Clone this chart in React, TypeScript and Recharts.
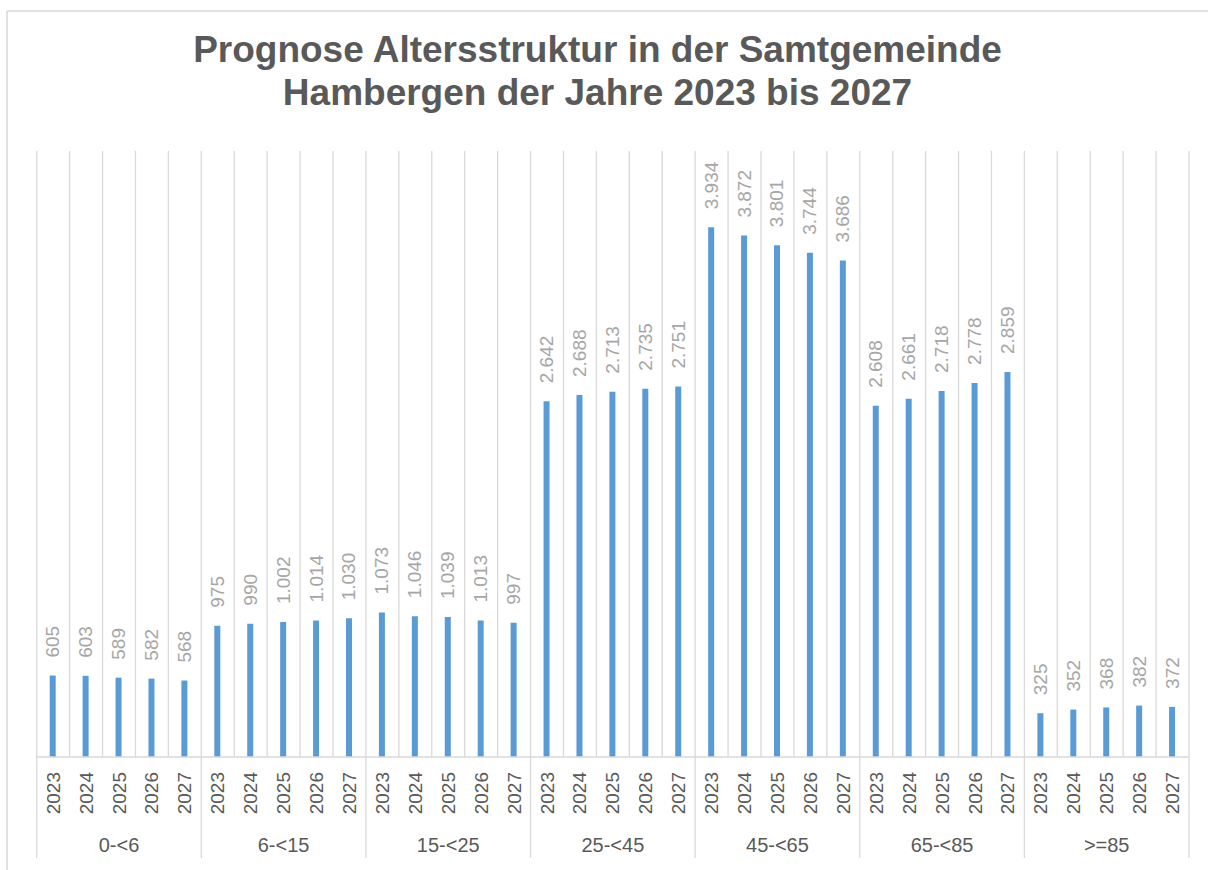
import React from 'react';
import { BarChart, Bar, XAxis, YAxis, CartesianGrid, LabelList } from 'recharts';

const groups = ['0-<6', '6-<15', '15-<25', '25-<45', '45-<65', '65-<85', '>=85'];
const years = ['2023', '2024', '2025', '2026', '2027'];

const age0to6 = [605, 603, 589, 582, 568];
const age6to15 = [975, 990, 1002, 1014, 1030];
const age15to25 = [1073, 1046, 1039, 1013, 997];
const age25to45 = [2642, 2688, 2713, 2735, 2751];
const age45to65 = [3934, 3872, 3801, 3744, 3686];
const age65to85 = [2608, 2661, 2718, 2778, 2859];
const age85plus = [325, 352, 368, 382, 372];

const seriesByGroup = [age0to6, age6to15, age15to25, age25to45, age45to65, age65to85, age85plus];

type Row = { key: string; group: string; year: string; value: number; gi: number; yi: number };

const data: Row[] = groups.flatMap((g, gi) =>
  years.map((y, yi) => ({ key: `${gi}|${yi}`, group: g, year: y, value: seriesByGroup[gi][yi], gi, yi }))
);
const rowByKey: Record<string, Row> = {};
data.forEach((r) => (rowByKey[r.key] = r));

const W = 1208;
const H = 870;
const PLOT_LEFT = 36.7;
const PLOT_RIGHT = 1189;
const PLOT_TOP = 151;
const PLOT_BOTTOM = 757;
const STEP = (PLOT_RIGHT - PLOT_LEFT) / data.length;

const FONT = '"Liberation Sans", Arial, sans-serif';
const GRID = '#D9D9D9';
const TEXT = '#595959';

const fmt = (n: number) => String(n).replace(/\B(?=(\d{3})+(?!\d))/g, '.');

const Tick = (props: any) => {
  const { x, y, payload } = props;
  const r = rowByKey[payload.value];
  if (!r) return null;
  const ty = y + 15;
  return (
    <g>
      <text
        x={x}
        y={ty}
        transform={`rotate(-90 ${x} ${ty})`}
        textAnchor="end"
        dominantBaseline="central"
        fill={TEXT}
        fontSize={19}
        fontFamily={FONT}
      >
        {r.year}
      </text>
      {r.yi === 0 && (
        <line x1={x - STEP / 2} y1={y} x2={x - STEP / 2} y2={y + 101} stroke={GRID} strokeWidth={1.3} />
      )}
      {r.gi === groups.length - 1 && r.yi === years.length - 1 && (
        <line x1={x + STEP / 2} y1={y} x2={x + STEP / 2} y2={y + 101} stroke={GRID} strokeWidth={1.3} />
      )}
      {r.yi === 2 && (
        <text x={x} y={y + 95} textAnchor="middle" fill={TEXT} fontSize={20} fontFamily={FONT}>
          {r.group}
        </text>
      )}
    </g>
  );
};

const ValueLabel = (props: any) => {
  const { x, y, width, value } = props;
  const cx = Number(x) + Number(width) / 2;
  const ty = Number(y) - 18;
  return (
    <text
      x={cx}
      y={ty}
      transform={`rotate(-90 ${cx} ${ty})`}
      textAnchor="start"
      dominantBaseline="central"
      fill="#A6A6A6"
      fontSize={19}
      fontFamily={FONT}
    >
      {fmt(Number(value))}
    </text>
  );
};

export default function App() {
  return (
    <div style={{ position: 'absolute', left: 0, top: 0, width: W, height: H, background: '#fff', overflow: 'hidden' }}>
      <svg width={W} height={H} style={{ position: 'absolute', left: 0, top: 0 }}>
        <line x1={7} y1={11} x2={W} y2={11} stroke={GRID} strokeWidth={1.5} />
        <line x1={7} y1={11} x2={7} y2={H} stroke={GRID} strokeWidth={1.5} />
        <text x={597.5} y={62} textAnchor="middle" fill={TEXT} fontSize={37} fontWeight="bold" fontFamily={FONT}>
          Prognose Altersstruktur in der Samtgemeinde
        </text>
        <text x={597.5} y={105} textAnchor="middle" fill={TEXT} fontSize={37} fontWeight="bold" fontFamily={FONT}>
          Hambergen der Jahre 2023 bis 2027
        </text>
      </svg>
      <div style={{ position: 'absolute', left: 0, top: 0 }}>
        <BarChart
          width={W}
          height={H}
          data={data}
          margin={{ top: PLOT_TOP, left: PLOT_LEFT, right: W - PLOT_RIGHT, bottom: 0 }}
        >
          <CartesianGrid
            horizontal={false}
            stroke={GRID}
            strokeWidth={1.3}
            verticalCoordinatesGenerator={({ offset }: any) =>
              Array.from({ length: data.length + 1 }, (_, i) => offset.left + (i * offset.width) / data.length)
            }
          />
          <YAxis hide width={0} domain={[0, 4500]} />
          <XAxis
            dataKey="key"
            interval={0}
            height={H - PLOT_BOTTOM}
            tickLine={false}
            tickSize={0}
            tickMargin={0}
            axisLine={{ stroke: GRID, strokeWidth: 1.5 }}
            tick={<Tick />}
          />
          <Bar dataKey="value" fill="#5B9BD5" barSize={6} isAnimationActive={false}>
            <LabelList dataKey="value" content={<ValueLabel />} />
          </Bar>
        </BarChart>
      </div>
    </div>
  );
}
